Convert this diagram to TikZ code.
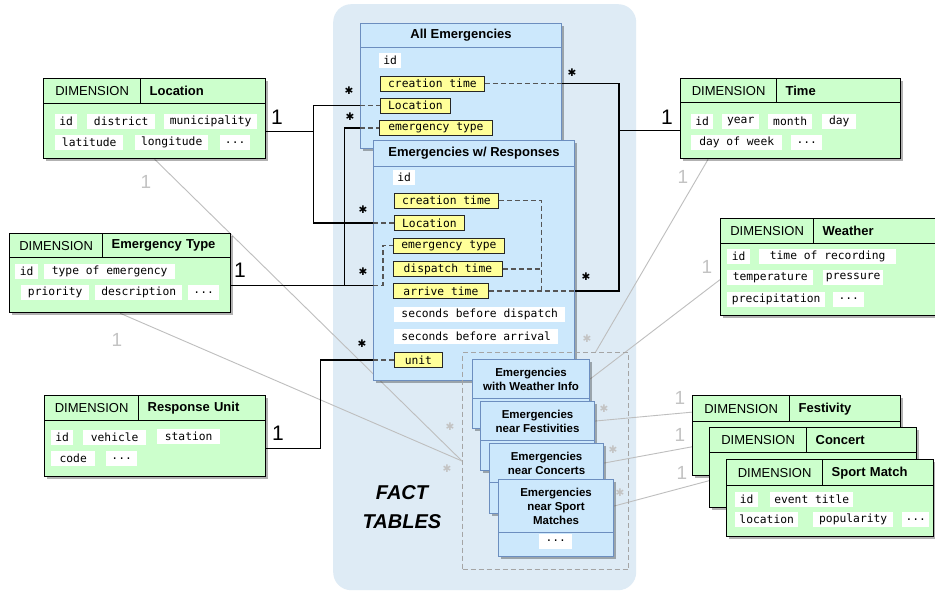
\documentclass[tikz,border=0pt]{standalone}
\usepackage{fontspec}
\setmainfont{Liberation Sans}
\newfontfamily\monof{DejaVu Sans Mono}
\newfontfamily\symf{DejaVu Sans}
\usetikzlibrary{shadows,calc}
\pgfdeclarelayer{back}
\pgfdeclarelayer{under}
\pgfsetlayers{back,under,main}

\definecolor{bgblue}{RGB}{222,235,245}
\definecolor{factfill}{RGB}{204,232,252}
\definecolor{factline}{RGB}{108,142,191}
\definecolor{dimfill}{RGB}{204,255,204}
\definecolor{keyfill}{RGB}{255,255,153}
\definecolor{grayline}{RGB}{190,190,190}
\definecolor{graytext}{RGB}{195,195,195}
\definecolor{dashbox}{RGB}{165,165,165}
\definecolor{dashline}{RGB}{85,85,85}

\tikzset{
 shad/.style={drop shadow={shadow xshift=2pt, shadow yshift=-2pt, opacity=0.3, fill=black}},
 facthead/.style={draw=factline, fill=factfill, line width=1.1pt, shad, anchor=north west, inner sep=0pt, align=center, font=\bfseries\fontsize{13}{15}\selectfont},
 factbody/.style={draw=factline, fill=factfill, line width=1.1pt, shad, anchor=north west, inner sep=0pt},
 subhead/.style={facthead, font=\bfseries\fontsize{11.5}{14}\selectfont},
 dimcell/.style={draw=black, fill=dimfill, line width=1.3pt, shad, anchor=north west, inner sep=0pt, font=\fontsize{13}{15}\selectfont},
 dimname/.style={dimcell, font=\bfseries\fontsize{13}{15}\selectfont, align=left, inner xsep=9pt},
 dimbody/.style={draw=black, fill=dimfill, line width=1.3pt, shad, anchor=north west, inner sep=0pt},
 fld/.style={fill=white, anchor=west, inner sep=0pt, minimum height=15pt, font=\monof\fontsize{11.3}{13}\selectfont},
 key/.style={fld, fill=keyfill, draw=black!85, line width=0.8pt},
 conn/.style={draw=black, line width=1.3pt},
 dconn/.style={draw=dashline, line width=1.1pt, dash pattern=on 5pt off 3pt},
 gconn/.style={draw=grayline, line width=0.9pt},
 one/.style={font=\fontsize{21}{21}\selectfont, inner sep=0pt},
 gone/.style={font=\fontsize{19}{19}\selectfont, text=graytext, inner sep=0pt},
 many/.style={font=\symf\fontsize{10.5}{10.5}\selectfont, inner sep=0pt},
 gmany/.style={many, text=graytext},
}

\begin{document}
\begin{tikzpicture}[x=1pt,y=-1pt]
\clip (0,0) rectangle (935,592);
\begin{pgfonlayer}{back}
\fill[white] (0,0) rectangle (935,592);
\node[fill=bgblue, rounded corners=18pt, minimum width=303pt, minimum height=586pt, anchor=north west, inner sep=0pt] (bg) at (333,4) {};
\end{pgfonlayer}

% ---------- Dimension: Location
\node[dimcell, minimum width=97pt, minimum height=25pt] (loc-k) at (43,78) {DIMENSION};
\node[dimname, text width=107pt, minimum height=25pt] (loc-n) at (140,78) {Location};
\node[dimbody, minimum width=222pt, minimum height=55pt] (loc-b) at (43,103) {};
\node[fld, minimum width=22pt] (loc-f1) at (55,121.5) {id};
\node[fld, minimum width=68pt] (loc-f2) at (87,121.5) {district};
\node[fld, minimum width=93pt] (loc-f3) at (164,121.5) {municipality};
\node[fld, minimum width=68pt] (loc-f4) at (55,142.5) {latitude};
\node[fld, minimum width=73pt] (loc-f5) at (135,142.5) {longitude};
\node[fld, minimum width=30pt] (loc-f6) at (220,142.5) {...};

% ---------- Dimension: Emergency Type
\node[dimcell, minimum width=93pt, minimum height=24pt] (et-k) at (9,233) {DIMENSION};
\node[dimname, text width=110pt, minimum height=24pt] (et-n) at (102,233) {Emergency Type};
\node[dimbody, minimum width=221pt, minimum height=55pt] (et-b) at (9,257) {};
\node[fld, minimum width=23pt] (et-f1) at (15,271.5) {id};
\node[fld, minimum width=131pt] (et-f2) at (44,271.5) {type of emergency};
\node[fld, minimum width=68pt] (et-f3) at (21,292.5) {priority};
\node[fld, minimum width=87pt] (et-f4) at (95,292.5) {description};
\node[fld, minimum width=31pt] (et-f5) at (188,292.5) {...};

% ---------- Dimension: Response Unit
\node[dimcell, minimum width=94pt, minimum height=25pt] (ru-k) at (44,395) {DIMENSION};
\node[dimname, text width=109pt, minimum height=25pt] (ru-n) at (138,395) {Response Unit};
\node[dimbody, minimum width=221pt, minimum height=56pt] (ru-b) at (44,420) {};
\node[fld, minimum width=22pt] (ru-f1) at (51,437) {id};
\node[fld, minimum width=63pt] (ru-f2) at (83,437) {vehicle};
\node[fld, minimum width=63pt] (ru-f3) at (157,436.5) {station};
\node[fld, minimum width=44pt] (ru-f4) at (51,458.5) {code};
\node[fld, minimum width=31pt] (ru-f5) at (106,458.5) {...};

% ---------- Dimension: Time
\node[dimcell, minimum width=96pt, minimum height=24pt] (time-k) at (680,78) {DIMENSION};
\node[dimname, text width=106pt, minimum height=24pt] (time-n) at (776,78) {Time};
\node[dimbody, minimum width=220pt, minimum height=56pt] (time-b) at (680,102) {};
\node[fld, minimum width=22pt] (time-f1) at (691,121.5) {id};
\node[fld, minimum width=37pt] (time-f2) at (722,121.5) {year};
\node[fld, minimum width=44pt] (time-f3) at (768,121.5) {month};
\node[fld, minimum width=34pt] (time-f4) at (822,121.5) {day};
\node[fld, minimum width=91pt] (time-f5) at (691,142.5) {day of week};
\node[fld, minimum width=31pt] (time-f6) at (791,142.5) {...};

% ---------- Dimension: Weather
\node[dimcell, minimum width=93pt, minimum height=25pt] (wea-k) at (720,218) {DIMENSION};
\node[dimname, text width=114pt, minimum height=25pt] (wea-n) at (813,218) {Weather};
\node[dimbody, minimum width=225pt, minimum height=72pt] (wea-b) at (720,243) {};
\node[fld, minimum width=23pt] (wea-f1) at (727,256.5) {id};
\node[fld, minimum width=137pt] (wea-f2) at (759,256.5) {time of recording};
\node[fld, minimum width=86pt] (wea-f3) at (727,277.5) {temperature};
\node[fld, minimum width=60pt] (wea-f4) at (823,277.5) {pressure};
\node[fld, minimum width=98pt] (wea-f5) at (727,299) {precipitation};
\node[fld, minimum width=31pt] (wea-f6) at (833,299) {...};

% ---------- Dimension: Festivity / Concert / Sport Match
\node[dimcell, minimum width=97pt, minimum height=26pt] (fes-k) at (692,395) {DIMENSION};
\node[dimname, text width=93pt, minimum height=26pt] (fes-n) at (789,395) {Festivity};
\node[dimbody, minimum width=208pt, minimum height=54pt] (fes-b) at (692,421) {};

\node[dimcell, minimum width=97pt, minimum height=25pt] (con-k) at (709,427) {DIMENSION};
\node[dimname, text width=92pt, minimum height=25pt] (con-n) at (806,427) {Concert};
\node[dimbody, minimum width=207pt, minimum height=55pt] (con-b) at (709,452) {};

\node[dimcell, minimum width=96pt, minimum height=26pt] (spo-k) at (726,459) {DIMENSION};
\node[dimname, text width=93pt, minimum height=26pt] (spo-n) at (822,459) {Sport Match};
\node[dimbody, minimum width=207pt, minimum height=51pt] (spo-b) at (726,485) {};
\node[fld, minimum width=23pt] (spo-f1) at (735,499) {id};
\node[fld, minimum width=83pt] (spo-f2) at (770,499) {event title};
\node[fld, minimum width=63pt] (spo-f3) at (735,519.5) {location};
\node[fld, minimum width=80pt] (spo-f4) at (813,519.5) {popularity};
\node[fld, minimum width=27pt] (spo-f5) at (902,519.5) {...};

% ---------- Fact: All Emergencies
\node[facthead, minimum width=201pt, minimum height=24pt] (ae-h) at (360,23) {All Emergencies};
\node[factbody, minimum width=201pt, minimum height=101pt] (ae-b) at (360,47) {};
\node[fld, minimum width=22pt] (ae-id) at (379,60) {id};
\node[key, minimum width=104pt] (ae-ct) at (380,83.5) {creation time};
\node[key, minimum width=70pt] (ae-loc) at (380,105.5) {Location};
\node[key, minimum width=113pt] (ae-et) at (379,128) {emergency type};

% ---------- Fact: Emergencies w/ Responses
\node[facthead, minimum width=201pt, minimum height=26pt] (ewr-h) at (373,140) {Emergencies w/ Responses};
\node[factbody, minimum width=201pt, minimum height=214pt] (ewr-b) at (373,166) {};
\node[fld, minimum width=22pt] (ewr-id) at (393,177.5) {id};
\node[key, minimum width=104pt] (ewr-ct) at (394,200.5) {creation time};
\node[key, minimum width=70pt] (ewr-loc) at (394,223) {Location};
\node[key, minimum width=111pt] (ewr-et) at (393,245.5) {emergency type};
\node[key, minimum width=109pt] (ewr-dt) at (393,269) {dispatch time};
\node[key, minimum width=95pt] (ewr-at) at (393,291) {arrive time};
\node[fld, minimum width=171pt] (ewr-sd) at (394,314.5) {seconds before dispatch};
\node[fld, minimum width=164pt] (ewr-sa) at (394,336.5) {seconds before arrival};
\node[key, minimum width=48pt] (ewr-unit) at (394,360) {unit};

% ---------- group of fact tables
\node[draw=dashbox, line width=1pt, dash pattern=on 5pt off 3pt, minimum width=166pt, minimum height=217pt, anchor=north west, inner sep=0pt] (fbox) at (462,352) {};

\node[subhead, minimum width=117pt, minimum height=39pt] (ft1-h) at (472,359) {Emergencies\\with Weather Info};
\node[factbody, minimum width=117pt, minimum height=30pt] (ft1-b) at (472,398) {};
\node[subhead, minimum width=114pt, minimum height=39pt] (ft2-h) at (480,401) {Emergencies\\near Festivities};
\node[factbody, minimum width=114pt, minimum height=30pt] (ft2-b) at (480,440) {};
\node[subhead, minimum width=114pt, minimum height=39pt] (ft3-h) at (489,443) {Emergencies\\near Concerts};
\node[factbody, minimum width=114pt, minimum height=31pt] (ft3-b) at (489,482) {};
\node[subhead, minimum width=115pt, minimum height=53pt] (ft4-h) at (498,479) {Emergencies\\near Sport\\Matches};
\node[factbody, minimum width=115pt, minimum height=24pt] (ft4-b) at (498,532) {};
\node[fld, minimum width=33pt] (ft4-f) at (539,541) {...};

\node[align=center, font=\bfseries\itshape\fontsize{20}{29}\selectfont] (facttxt) at (402,507.5) {FACT\\TABLES};

% ---------- black connectors
\coordinate (locj) at ([xshift=47pt]loc-b.east);
\draw[conn] (loc-b.east) -- (locj);
\draw[conn] (ae-b.west |- ae-loc.west) -| (locj |- ewr-loc.west) -- (ewr-b.west |- ewr-loc.west);
\draw[dconn] (ae-b.west |- ae-loc.west) -- (ae-loc.west);
\draw[dconn] (ewr-b.west |- ewr-loc.west) -- (ewr-loc.west);

\coordinate (etj) at ([xshift=113pt]et-b.east);
\draw[conn] (ae-b.west |- ae-et.west) -| (etj |- et-b.east);
\draw[conn] (et-b.east) -- (ewr-b.west |- et-b.east);
\draw[dconn] (ae-b.west |- ae-et.west) -- (ae-et.west);
\draw[dconn] (ewr-b.west |- et-b.east) -- ++(10,0) |- (ewr-et.west);

\coordinate (ruj) at ([xshift=54pt]ru-b.east);
\draw[conn] (ru-b.east) -| (ruj |- ewr-unit.west) -- (ewr-b.west |- ewr-unit.west);
\draw[dconn] (ewr-b.west |- ewr-unit.west) -- (ewr-unit.west);

\coordinate (timej) at ([xshift=-61pt]time-b.west);
\draw[conn] (time-b.west) -- (timej);
\draw[conn] (ae-b.east |- ae-ct.east) -| (timej |- ewr-at.east) -- (ewr-b.east |- ewr-at.east);
\draw[dconn] (ae-ct.east) -- (ae-b.east |- ae-ct.east);
\draw[dconn] (ewr-at.east) -- (ewr-b.east |- ewr-at.east);
\coordinate (ewrj) at ([xshift=43pt]ewr-ct.east);
\draw[dconn] (ewr-ct.east) -| (ewrj |- ewr-at.east);
\draw[dconn] (ewr-dt.east) -- (ewrj |- ewr-dt.east);

% ---------- gray connectors
\begin{pgfonlayer}{under}
\draw[gconn] (loc-b.south) -- (fbox.west);
\draw[gconn] (et-b.south) -- (fbox.west);
\draw[gconn] ($(time-b.south west)!0.127!(time-b.south east)$) -- ($(fbox.north west)!0.8!(fbox.north east)$);
\draw[gconn] (wea-b.west) -- (ft1-h.east);
\draw[gconn] ([yshift=-3.5pt]fes-k.west) -- (ft2-h.east);
\draw[gconn] ([yshift=-3.5pt]con-k.west) -- (ft3-h.east);
\draw[gconn] ([yshift=-3.5pt]spo-k.west) -- (ft4-h.east);
\end{pgfonlayer}

% ---------- multiplicities
\node[one] (m1) at (277,117) {1};
\node[one] (m2) at (240,270) {1};
\node[one] (m3) at (278,433) {1};
\node[one] (m4) at (667,117) {1};
\node[gone] (g1) at (146,182) {1};
\node[gone] (g2) at (117,340) {1};
\node[gone] (g3) at (683,177) {1};
\node[gone] (g4) at (707,267) {1};
\node[gone] (g5) at (680,398) {1};
\node[gone] (g6) at (680,435) {1};
\node[gone] (g7) at (682,473) {1};

\node[many] (s1) at (572,73) {✱};
\node[many] (s2) at (349,91) {✱};
\node[many] (s3) at (350,117) {✱};
\node[many] (s4) at (363,210) {✱};
\node[many] (s5) at (363,272) {✱};
\node[many] (s6) at (362,344) {✱};
\node[many] (s7) at (586,277) {✱};
\node[gmany] (gs1) at (450,427) {✱};
\node[gmany] (gs2) at (447,469) {✱};
\node[gmany] (gs3) at (587,339) {✱};
\node[gmany] (gs4) at (604,409) {✱};
\node[gmany] (gs5) at (613,450) {✱};
\node[gmany] (gs6) at (620,493) {✱};
\end{tikzpicture}
\end{document}
